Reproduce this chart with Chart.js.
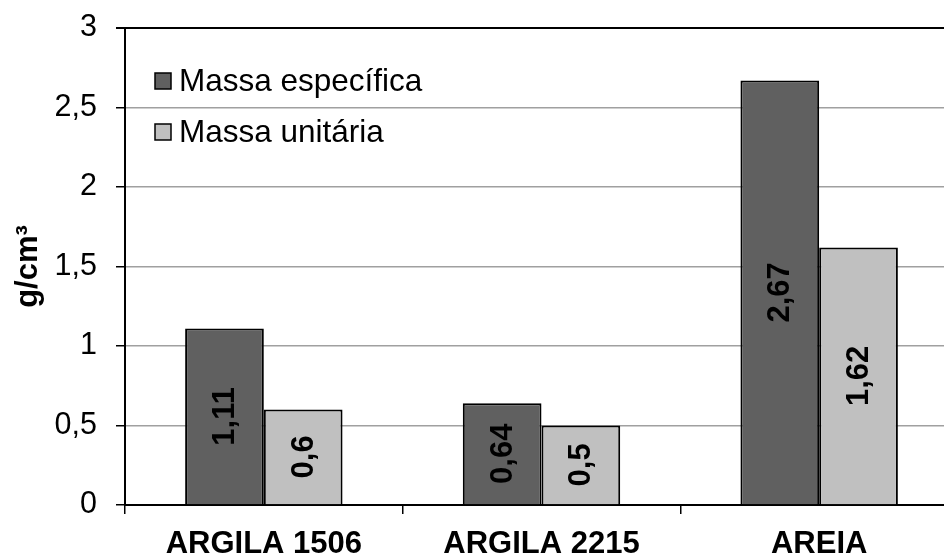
<!DOCTYPE html>
<html>
<head>
<meta charset="utf-8">
<script src="https://cdn.jsdelivr.net/npm/chart.js@4/dist/chart.umd.min.js"></script>
<style>
  html, body { margin: 0; padding: 0; overflow: hidden; background: #fff; }
</style>
</head>
<body>
<canvas id="grafico" width="958" height="556"></canvas>
<script>
// dados do gráfico
const categorias = ["ARGILA 1506", "ARGILA 2215", "AREIA"];
const massaEspecifica = [1.11, 0.64, 2.67];
const massaUnitaria = [0.6, 0.5, 1.62];
const nomesSeries = ["Massa específica", "Massa unitária"];
const coresSeries = ["#606060", "#c0c0c0"];

const fonte = "'Liberation Sans', Arial, sans-serif";
const virgula = v => String(v).replace(".", ",");

// rótulos dos valores, girados, no meio de cada barra
const rotulosBarras = {
    id: "rotulosBarras",
    afterDatasetsDraw(chart) {
        const ctx = chart.ctx;
        ctx.save();
        ctx.font = "bold 31px " + fonte;
        ctx.fillStyle = "#000";
        ctx.textAlign = "center";
        ctx.textBaseline = "middle";
        chart.data.datasets.forEach((ds, i) => {
            chart.getDatasetMeta(i).data.forEach((barra, j) => {
                const meio = (barra.y + barra.base) / 2;
                ctx.save();
                ctx.translate(barra.x, meio);
                ctx.rotate(-Math.PI / 2);
                ctx.fillText(virgula(ds.data[j]), 0, 1);
                ctx.restore();
            });
        });
        ctx.restore();
    }
};

// legenda dentro da área do gráfico
const legendaInterna = {
    id: "legendaInterna",
    afterDraw(chart) {
        const ctx = chart.ctx;
        const area = chart.chartArea;
        ctx.save();
        ctx.font = "31.5px " + fonte;
        ctx.textBaseline = "middle";
        chart.data.datasets.forEach((ds, i) => {
            const y = area.top + 45 + i * 51;
            ctx.fillStyle = ds.backgroundColor;
            ctx.fillRect(area.left + 30, y, 16, 16);
            ctx.strokeStyle = "#000";
            ctx.lineWidth = 1.5;
            ctx.strokeRect(area.left + 30, y, 16, 16);
            ctx.fillStyle = "#000";
            ctx.fillText(ds.label, area.left + 54, y + 9);
        });
        ctx.restore();
    }
};

new Chart(document.getElementById("grafico").getContext("2d"), {
    type: "bar",
    data: {
        labels: categorias,
        datasets: [
            { label: nomesSeries[0], data: massaEspecifica, backgroundColor: coresSeries[0], borderColor: "#000", borderWidth: 2 },
            { label: nomesSeries[1], data: massaUnitaria, backgroundColor: coresSeries[1], borderColor: "#000", borderWidth: 2 }
        ]
    },
    options: {
        responsive: false,
        animation: false,
        devicePixelRatio: 1,
        layout: { padding: { top: 28, left: 0, right: 0, bottom: 0 } },
        datasets: { bar: { barPercentage: 1, categoryPercentage: 0.567 } },
        plugins: { legend: { display: false }, tooltip: { enabled: false } },
        scales: {
            x: {
                afterFit: s => { s.height = 51; s.paddingLeft = 0; s.paddingRight = 0; },
                grid: { drawOnChartArea: false, offset: true, tickLength: 9, tickColor: "#000", lineWidth: 1.5 },
                border: { color: "#000", width: 2 },
                ticks: { color: "#000", padding: 12, font: { family: fonte, size: 31, weight: "bold" } }
            },
            y: {
                min: 0,
                max: 3,
                afterFit: s => { s.width = 125; s.paddingTop = 0; s.paddingBottom = 0; },
                grid: {
                    color: c => c.tick && c.tick.value === 3 ? "#000" : "#a0a0a0",
                    lineWidth: c => c.tick && c.tick.value === 3 ? 2 : 1.5,
                    tickLength: 9,
                    tickColor: "#000"
                },
                border: { color: "#000", width: 2 },
                ticks: {
                    stepSize: 0.5,
                    color: "#000",
                    padding: 19,
                    font: { family: fonte, size: 30.5 },
                    callback: v => virgula(v)
                },
                title: {
                    display: true,
                    text: "g/cm³",
                    color: "#000",
                    padding: { top: 10, bottom: 0 },
                    font: { family: fonte, size: 31, weight: "bold" }
                }
            }
        }
    },
    plugins: [rotulosBarras, legendaInterna]
});
</script>
</body>
</html>
